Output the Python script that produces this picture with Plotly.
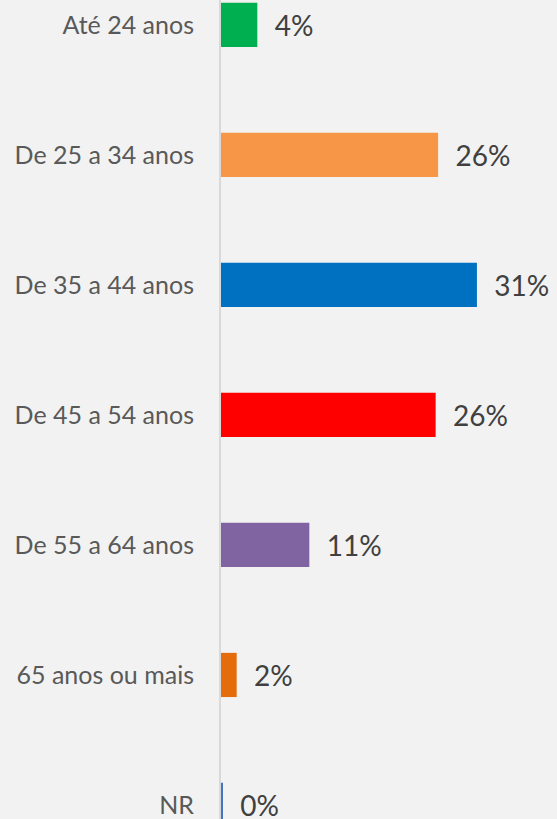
import plotly.graph_objects as go

categories = ["Até 24 anos", "De 25 a 34 anos", "De 35 a 44 anos", "De 45 a 54 anos",
              "De 55 a 64 anos", "65 anos ou mais", "NR"]
values = [4.4, 26.3, 31.0, 26.0, 10.7, 1.9, 0.2]
labels = [4, 26, 31, 26, 11, 2, 0]
colors = ["#00b050", "#f79646", "#0070c0", "#ff0000", "#8064a2", "#e46c0a", "#4472c4"]

fig = go.Figure(go.Bar(
    y=categories, x=values, orientation="h",
    marker=dict(color=colors, line=dict(width=0)),
    width=0.34,
    text=["\u00a0\u00a0" + f"{v}%" for v in labels],
    textposition="outside",
    constraintext="none",
    cliponaxis=False,
    textfont=dict(family="Lato", size=28, color="#404040"),
    hoverinfo="skip",
))

fig.update_layout(
    width=557, height=819,
    margin=dict(l=221, r=0, t=0, b=0),
    paper_bgcolor="#f2f2f2", plot_bgcolor="#f2f2f2",
    showlegend=False,
    xaxis=dict(range=[0, 40.7], visible=False, fixedrange=True),
    yaxis=dict(
        range=[6.108, -0.192], type="category",
        showgrid=False, zeroline=False,
        showline=True, linecolor="#d9d9d9", linewidth=2,
        ticks="", ticklabelstandoff=20,
        tickfont=dict(family="Lato", size=25, color="#595959"),
        fixedrange=True,
    ),
)

fig.write_html("out.html",
               config={"displayModeBar": False},
               post_script="document.body.style.margin='0';document.body.style.overflow='hidden';document.body.style.background='#f2f2f2';")
